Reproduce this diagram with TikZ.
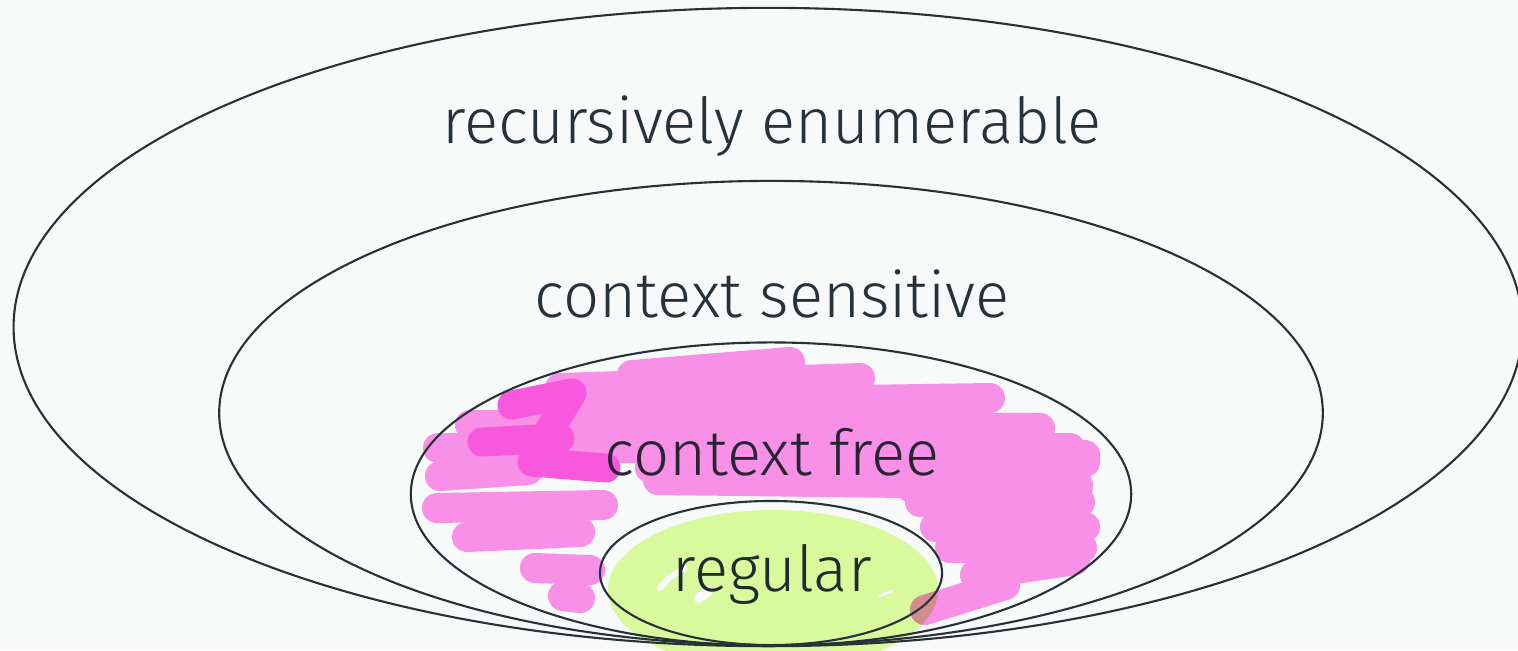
\documentclass[tikz,border=0pt]{standalone}
\usepackage{fontspec}
\setmainfont{Fira Sans Light}
\usepackage{xcolor}
\usetikzlibrary{shapes.geometric}

\definecolor{paper}{HTML}{F8F9F9}
\definecolor{ink}{HTML}{263238}
\definecolor{pinkhl}{HTML}{F790E6}
\definecolor{hothl}{HTML}{F858DE}
\definecolor{limehl}{HTML}{D9F99D}
\definecolor{mixhl}{HTML}{D28C8D}

\begin{document}
\begin{tikzpicture}[x=0.01cm, y=-0.01cm,
    ring/.style={ellipse, draw=ink, line width=0.6pt, inner sep=0pt},
    lbl/.style={anchor=base, text=ink, inner sep=0pt, font=\fontsize{18.05}{20}\selectfont},
    pinkscrib/.style={pinkhl, line width=0.3cm, line cap=round, line join=round},
    hotscrib/.style={hothl, line width=0.29cm, line cap=round, line join=round},
    gapline/.style={paper, line width=0.06cm, line cap=round}
]
\useasboundingbox (0,0) rectangle (1518,650);
\fill[paper] (0,0) rectangle (1518,650);
\clip (0,0) rectangle (1518,650);

% Highlighter - regular
\fill[limehl] (773,590) ellipse [x radius=165, y radius=80];

% Highlighter - context free, top mass
\draw[pinkscrib] (632,375) -- (790,362);
\draw[pinkscrib] (560,388) -- (860,378);
\draw[pinkscrib] (520,405) -- (990,398);
\draw[pinkscrib] (470,425) -- (1040,428);
\draw[pinkscrib] (438,448) -- (1070,448);
\draw[pinkscrib] (650,468) -- (1085,462);
\draw[pinkscrib] (658,480) -- (1078,485);

% Highlighter - context free, left strokes
\draw[pinkscrib] (440,476) -- (528,470);
\draw[pinkscrib] (437,508) -- (603,505);
\draw[pinkscrib] (467,537) -- (580,532);
\draw[pinkscrib] (535,568) -- (590,570);
\draw[pinkscrib] (563,596) -- (580,598);

% Highlighter - context free, right strokes
\draw[pinkscrib] (905,455) -- (1085,455);
\draw[pinkscrib] (910,487) -- (1078,487);
\draw[pinkscrib] (920,502) -- (1080,502);
\draw[pinkscrib] (935,527) -- (1085,527);
\draw[pinkscrib] (950,548) -- (1082,548);
\draw[pinkscrib] (975,575) -- (1075,560);
\draw[pinkscrib] (1005,585) -- (925,610);

% Darker strokes
\draw[hotscrib] (512,405) -- (572,393) -- (545,437);
\draw[hotscrib] (482,442) -- (560,438);
\draw[hotscrib] (532,462) -- (606,468);

% Overlap of the two highlighters
\begin{scope}
  \clip (773,590) ellipse [x radius=165, y radius=80];
  \draw[pinkscrib, mixhl] (1005,585) -- (925,610);
\end{scope}

% Gaps in the green
\draw[gapline] (660,588) .. controls (668,578) .. (685,568);
\draw[gapline, line width=0.1cm] (699,598) -- (708,591);
\draw[gapline, line width=0.03cm] (880,596) -- (892,591);

% Language classes
\node[ring, minimum width=15.08cm, minimum height=6.38cm] (re) at (768,327) {};
\node[ring, minimum width=11.03cm, minimum height=4.64cm] (cs) at (771,413) {};
\node[ring, minimum width=7.20cm, minimum height=3.03cm] (cf) at (771,494) {};
\node[ring, minimum width=3.42cm, minimum height=1.44cm] (rg) at (771,573) {};

% Labels
\node[lbl] (reLbl) at (772,143) {recursively enumerable};
\node[lbl] (csLbl) at (772,317) {context sensitive};
\node[lbl, text=ink!80!black!90!violet] (cfLbl) at (772,475) {context free};
\node[lbl, text=ink!85!black] (rgLbl) at (772,591) {regular};

\end{tikzpicture}
\end{document}
